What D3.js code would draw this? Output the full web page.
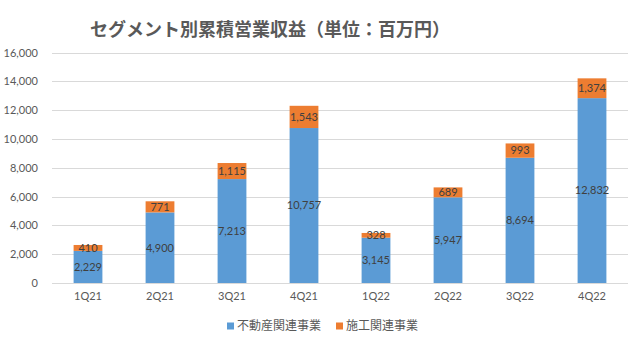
<!DOCTYPE html>
<html><head><meta charset="utf-8">
<script src="https://cdn.jsdelivr.net/npm/d3@7"></script>
<style>body{margin:0;background:#fff}</style>
</head><body>
<svg id="c" width="640" height="340"></svg>
<script>
const categories = ["1Q21","2Q21","3Q21","4Q21","1Q22","2Q22","3Q22","4Q22"];
const realEstate = [2229,4900,7213,10757,3145,5947,8694,12832];
const construction = [410,771,1115,1543,328,689,993,1374];
const seriesNames = ["不動産関連事業","施工関連事業"];
const colors = ["#5B9BD5","#ED7D31"];
const yTicks = [0,2000,4000,6000,8000,10000,12000,14000,16000];
const title = "セグメント別累積営業収益（単位：百万円）";

const svg = d3.select("#c");
const numFont = "Lato, 'Noto Sans', sans-serif";
const jpFont = "'Noto Sans CJK JP', sans-serif";
const x = d3.scaleBand().domain(categories).range([52,628]).paddingInner(0.6).paddingOuter(0.3);
const y = d3.scaleLinear().domain([0,16000]).range([283,52.5]);

svg.append("text").attr("x",270).attr("y",36).attr("text-anchor","middle")
  .attr("font-family",jpFont).attr("font-weight","bold").attr("font-size",18)
  .attr("fill","#595959").text(title);

const grid = svg.append("g");
grid.selectAll("line").data(yTicks).join("line")
  .attr("x1",52).attr("x2",628).attr("y1",d=>Math.round(y(d))+0.5).attr("y2",d=>Math.round(y(d))+0.5)
  .attr("stroke","#d9d9d9").attr("stroke-width",1);

const yAxis = d3.axisLeft(y).tickValues(yTicks).tickFormat(d3.format(",")).tickSize(0).tickPadding(0);
const ya = svg.append("g").attr("transform","translate(38,0)").call(yAxis);
ya.select(".domain").remove();
ya.selectAll("text").attr("font-family",numFont).attr("font-size",11).attr("fill","#595959");

const data = categories.map((c,i)=>({c, a:realEstate[i], b:construction[i]}));
const g = svg.append("g");
g.selectAll("rect.a").data(data).join("rect").attr("class","a")
  .attr("x",d=>x(d.c)).attr("width",x.bandwidth())
  .attr("y",d=>y(d.a)).attr("height",d=>y(0)-y(d.a)).attr("fill",colors[0]);
g.selectAll("rect.b").data(data).join("rect").attr("class","b")
  .attr("x",d=>x(d.c)).attr("width",x.bandwidth())
  .attr("y",d=>y(d.a+d.b)).attr("height",d=>y(d.a)-y(d.a+d.b)).attr("fill",colors[1]);

const fmt = d3.format(",");
g.selectAll("text.a").data(data).join("text").attr("class","a")
  .attr("x",d=>x(d.c)+x.bandwidth()/2).attr("y",d=>(y(0)+y(d.a))/2).attr("dy","0.35em")
  .attr("text-anchor","middle").attr("font-family",numFont).attr("font-size",11).attr("fill","#404040")
  .text(d=>fmt(d.a));
g.selectAll("text.b").data(data).join("text").attr("class","b")
  .attr("x",d=>x(d.c)+x.bandwidth()/2).attr("y",d=>(y(d.a)+y(d.a+d.b))/2).attr("dy","0.35em")
  .attr("text-anchor","middle").attr("font-family",numFont).attr("font-size",11).attr("fill","#404040")
  .text(d=>fmt(d.b));

const xAxis = d3.axisBottom(x).tickSize(0).tickPadding(0);
const xa = svg.append("g").attr("transform","translate(0,292)").call(xAxis);
xa.select(".domain").remove();
xa.selectAll("text").attr("font-family",numFont).attr("font-size",11).attr("fill","#595959").attr("dy","0.71em");

const legend = svg.append("g");
const lx = [227, 336];
seriesNames.forEach((n,i)=>{
  legend.append("rect").attr("x",lx[i]).attr("y",322.5).attr("width",7).attr("height",7).attr("fill",colors[i]);
  legend.append("text").attr("x",lx[i]+10).attr("y",326).attr("dy","0.35em")
    .attr("font-family",jpFont).attr("font-size",12).attr("fill","#595959").text(n);
});
</script>
</body></html>
